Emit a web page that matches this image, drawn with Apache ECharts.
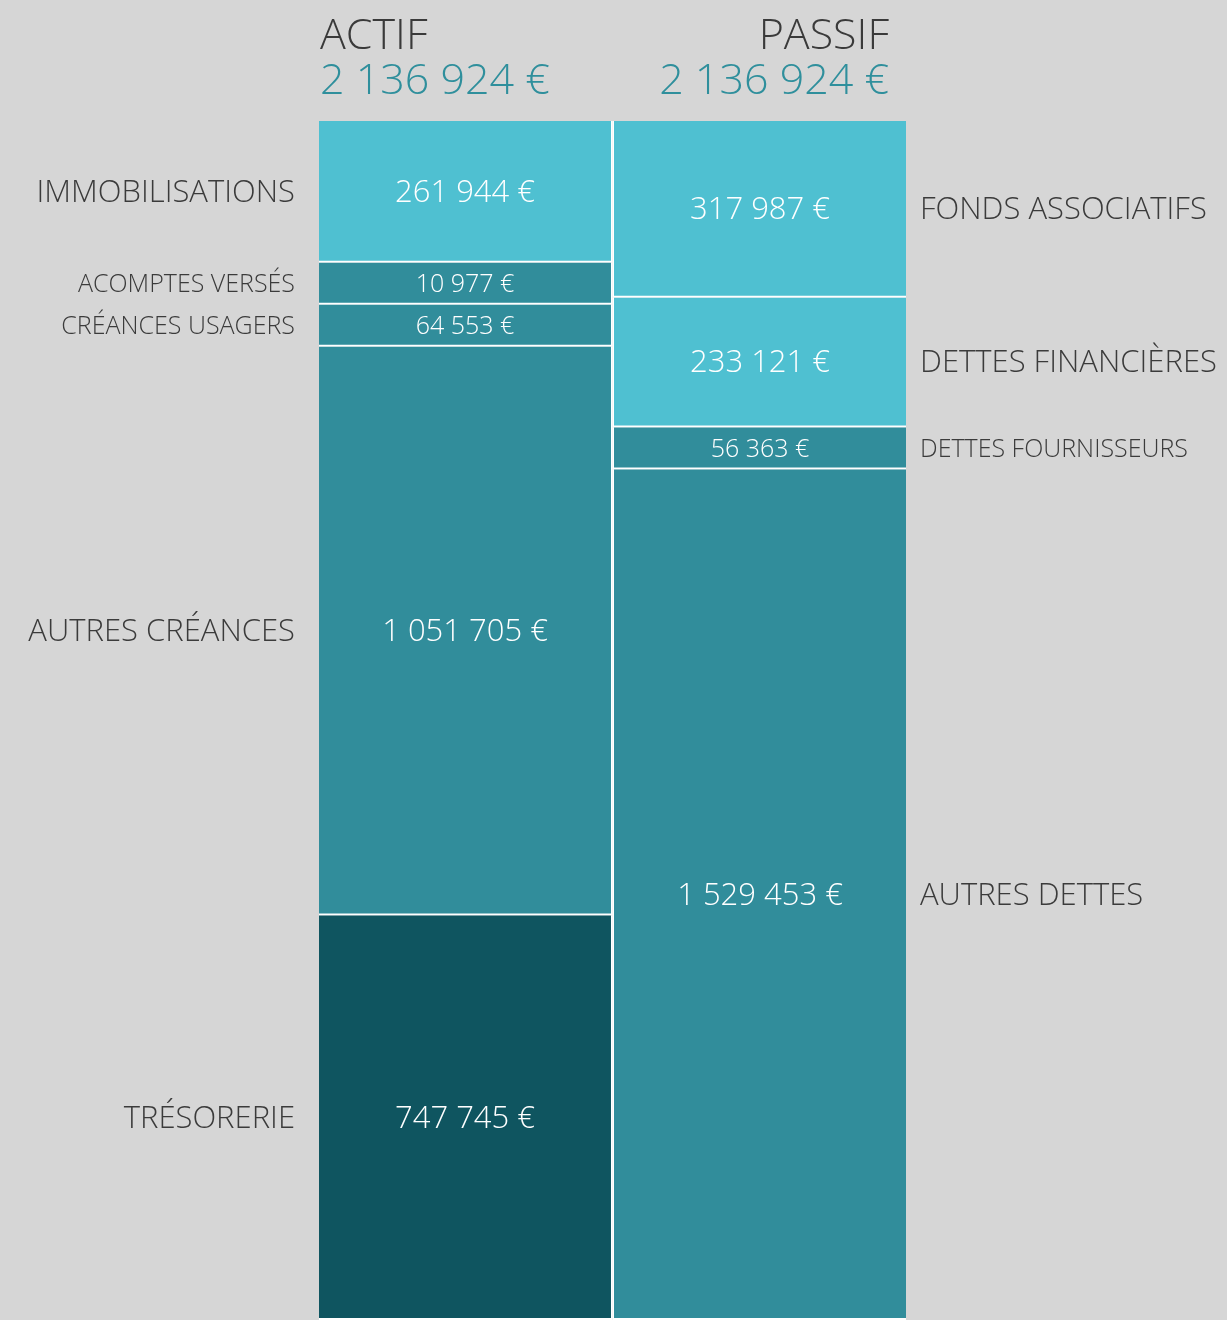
<!DOCTYPE html>
<html><head><meta charset="utf-8">
<script src="https://cdn.jsdelivr.net/npm/echarts@6/dist/echarts.min.js"></script>
<style>html,body{margin:0;padding:0;background:#d6d6d6;} #c{width:1227px;height:1320px;}</style>
</head><body><div id="c"></div>
<script>
// ---- data ----
const columns = ['ACTIF', 'PASSIF'];
const actifLabels = ['IMMOBILISATIONS', 'ACOMPTES VERSÉS', 'CRÉANCES USAGERS', 'AUTRES CRÉANCES', 'TRÉSORERIE'];
const actifValues = [261944, 10977, 64553, 1051705, 747745];
const passifLabels = ['FONDS ASSOCIATIFS', 'DETTES FINANCIÈRES', 'DETTES FOURNISSEURS', 'AUTRES DETTES'];
const passifValues = [317987, 233121, 56363, 1529453];

// ---- styles ----
const LIGHT = '#4fc0d1', MID = '#318d9b', DARK = '#0f5560';
const actifColors = [LIGHT, MID, MID, MID, DARK];
const passifColors = [LIGHT, LIGHT, MID, MID];
const FONT = '"Open Sans", "Noto Sans", sans-serif';
const MIN_SLOT = 42;   // minimum pixel slot for a thin segment (like barMinHeight)
const GAP = 2;         // white gap between stacked segments
const COL_GAP = 1.5;   // half of the white gap between the two columns
const TEXT_DY = 2;     // optical vertical centring of caps

const fmt = v => String(v).replace(/\B(?=(\d{3})+(?!\d))/g, ' ') + ' €';
const sum = a => a.reduce((s, v) => s + v, 0);
const total = Math.max(sum(actifValues), sum(passifValues));

function makeRender(values, names, colors, col) {
  return function (params, api) {
    const i = params.dataIndex;
    const y0 = api.coord([col, 0])[1];
    // natural pixel heights through the value axis (stacked)
    let cum = 0, prev = y0;
    const nat = values.map(v => { cum += v; const y = api.coord([col, cum])[1]; const h = y - prev; prev = y; return h; });
    const span = api.coord([col, sum(values)])[1] - y0;
    const isSmall = nat.map(h => h < MIN_SLOT);
    const bigSum = nat.reduce((s, h, j) => s + (isSmall[j] ? 0 : h), 0);
    const smallCount = isSmall.filter(Boolean).length;
    const k = (span - smallCount * MIN_SLOT) / bigSum;
    const slots = nat.map((h, j) => isSmall[j] ? MIN_SLOT : h * k);
    let top = y0;
    for (let j = 0; j < i; j++) top += slots[j];
    const fillH = slots[i] - GAP;
    const cx = api.coord([col, 0])[0];
    const cw = api.size([1, 0])[0];
    const bx = cx - cw / 2;
    let x = bx, w = cw - COL_GAP;
    if (col === 1) x += COL_GAP;
    const sm = isSmall[i];
    return {
      type: 'group',
      children: [
        { type: 'rect', shape: { x: bx, y: top, width: cw, height: slots[i] }, style: { fill: '#ffffff' } },
        {
          type: 'rect', shape: { x: x, y: top, width: w, height: fillH },
          style: { fill: colors[i] },
          textContent: { style: { text: fmt(values[i]), fill: '#ffffff', fontFamily: FONT, fontWeight: 300, fontSize: sm ? 25 : 31 } },
          textConfig: { position: 'inside', offset: [0, TEXT_DY] }
        },
        {
          type: 'text', x: col === 0 ? x - 24 : x + w + 14, y: top + fillH / 2 + TEXT_DY,
          style: { text: names[i], fill: '#3b3b3b', fontFamily: FONT, fontWeight: 300, fontSize: sm ? 25 : 31,
                   align: col === 0 ? 'right' : 'left', verticalAlign: 'middle' }
        }
      ]
    };
  };
}

const series = [
  { type: 'custom', name: columns[0], clip: false, encode: { x: 0, y: 1 },
    data: actifValues.map((v, i) => [0, v, i]), renderItem: makeRender(actifValues, actifLabels, actifColors, 0) },
  { type: 'custom', name: columns[1], clip: false, encode: { x: 0, y: 1 },
    data: passifValues.map((v, i) => [1, v, i]), renderItem: makeRender(passifValues, passifLabels, passifColors, 1) }
];

const titleStyle = { fontFamily: FONT, fontWeight: 300, fontSize: 43, fill: '#3a3a3a', verticalAlign: 'middle' };
const totalStyle = { fontFamily: FONT, fontWeight: 300, fontSize: 43, fill: '#2f8f9c', verticalAlign: 'middle' };

const chart = echarts.init(document.getElementById('c'), null, { renderer: 'canvas' });
chart.setOption({
  animation: false,
  backgroundColor: '#d6d6d6',
  graphic: [
    { type: 'text', x: 320, y: 37, style: Object.assign({ text: columns[0], align: 'left' }, titleStyle) },
    { type: 'text', x: 320, y: 82, style: Object.assign({ text: fmt(sum(actifValues)), align: 'left' }, totalStyle) },
    { type: 'text', x: 889, y: 37, style: Object.assign({ text: columns[1], align: 'right' }, titleStyle) },
    { type: 'text', x: 889, y: 82, style: Object.assign({ text: fmt(sum(passifValues)), align: 'right' }, totalStyle) }
  ],
  grid: { left: 319, width: 587, top: 121, height: 1204 },
  xAxis: { type: 'category', data: columns, show: false },
  yAxis: { type: 'value', min: 0, max: total, inverse: true, show: false },
  series: series
});
</script></body></html>
